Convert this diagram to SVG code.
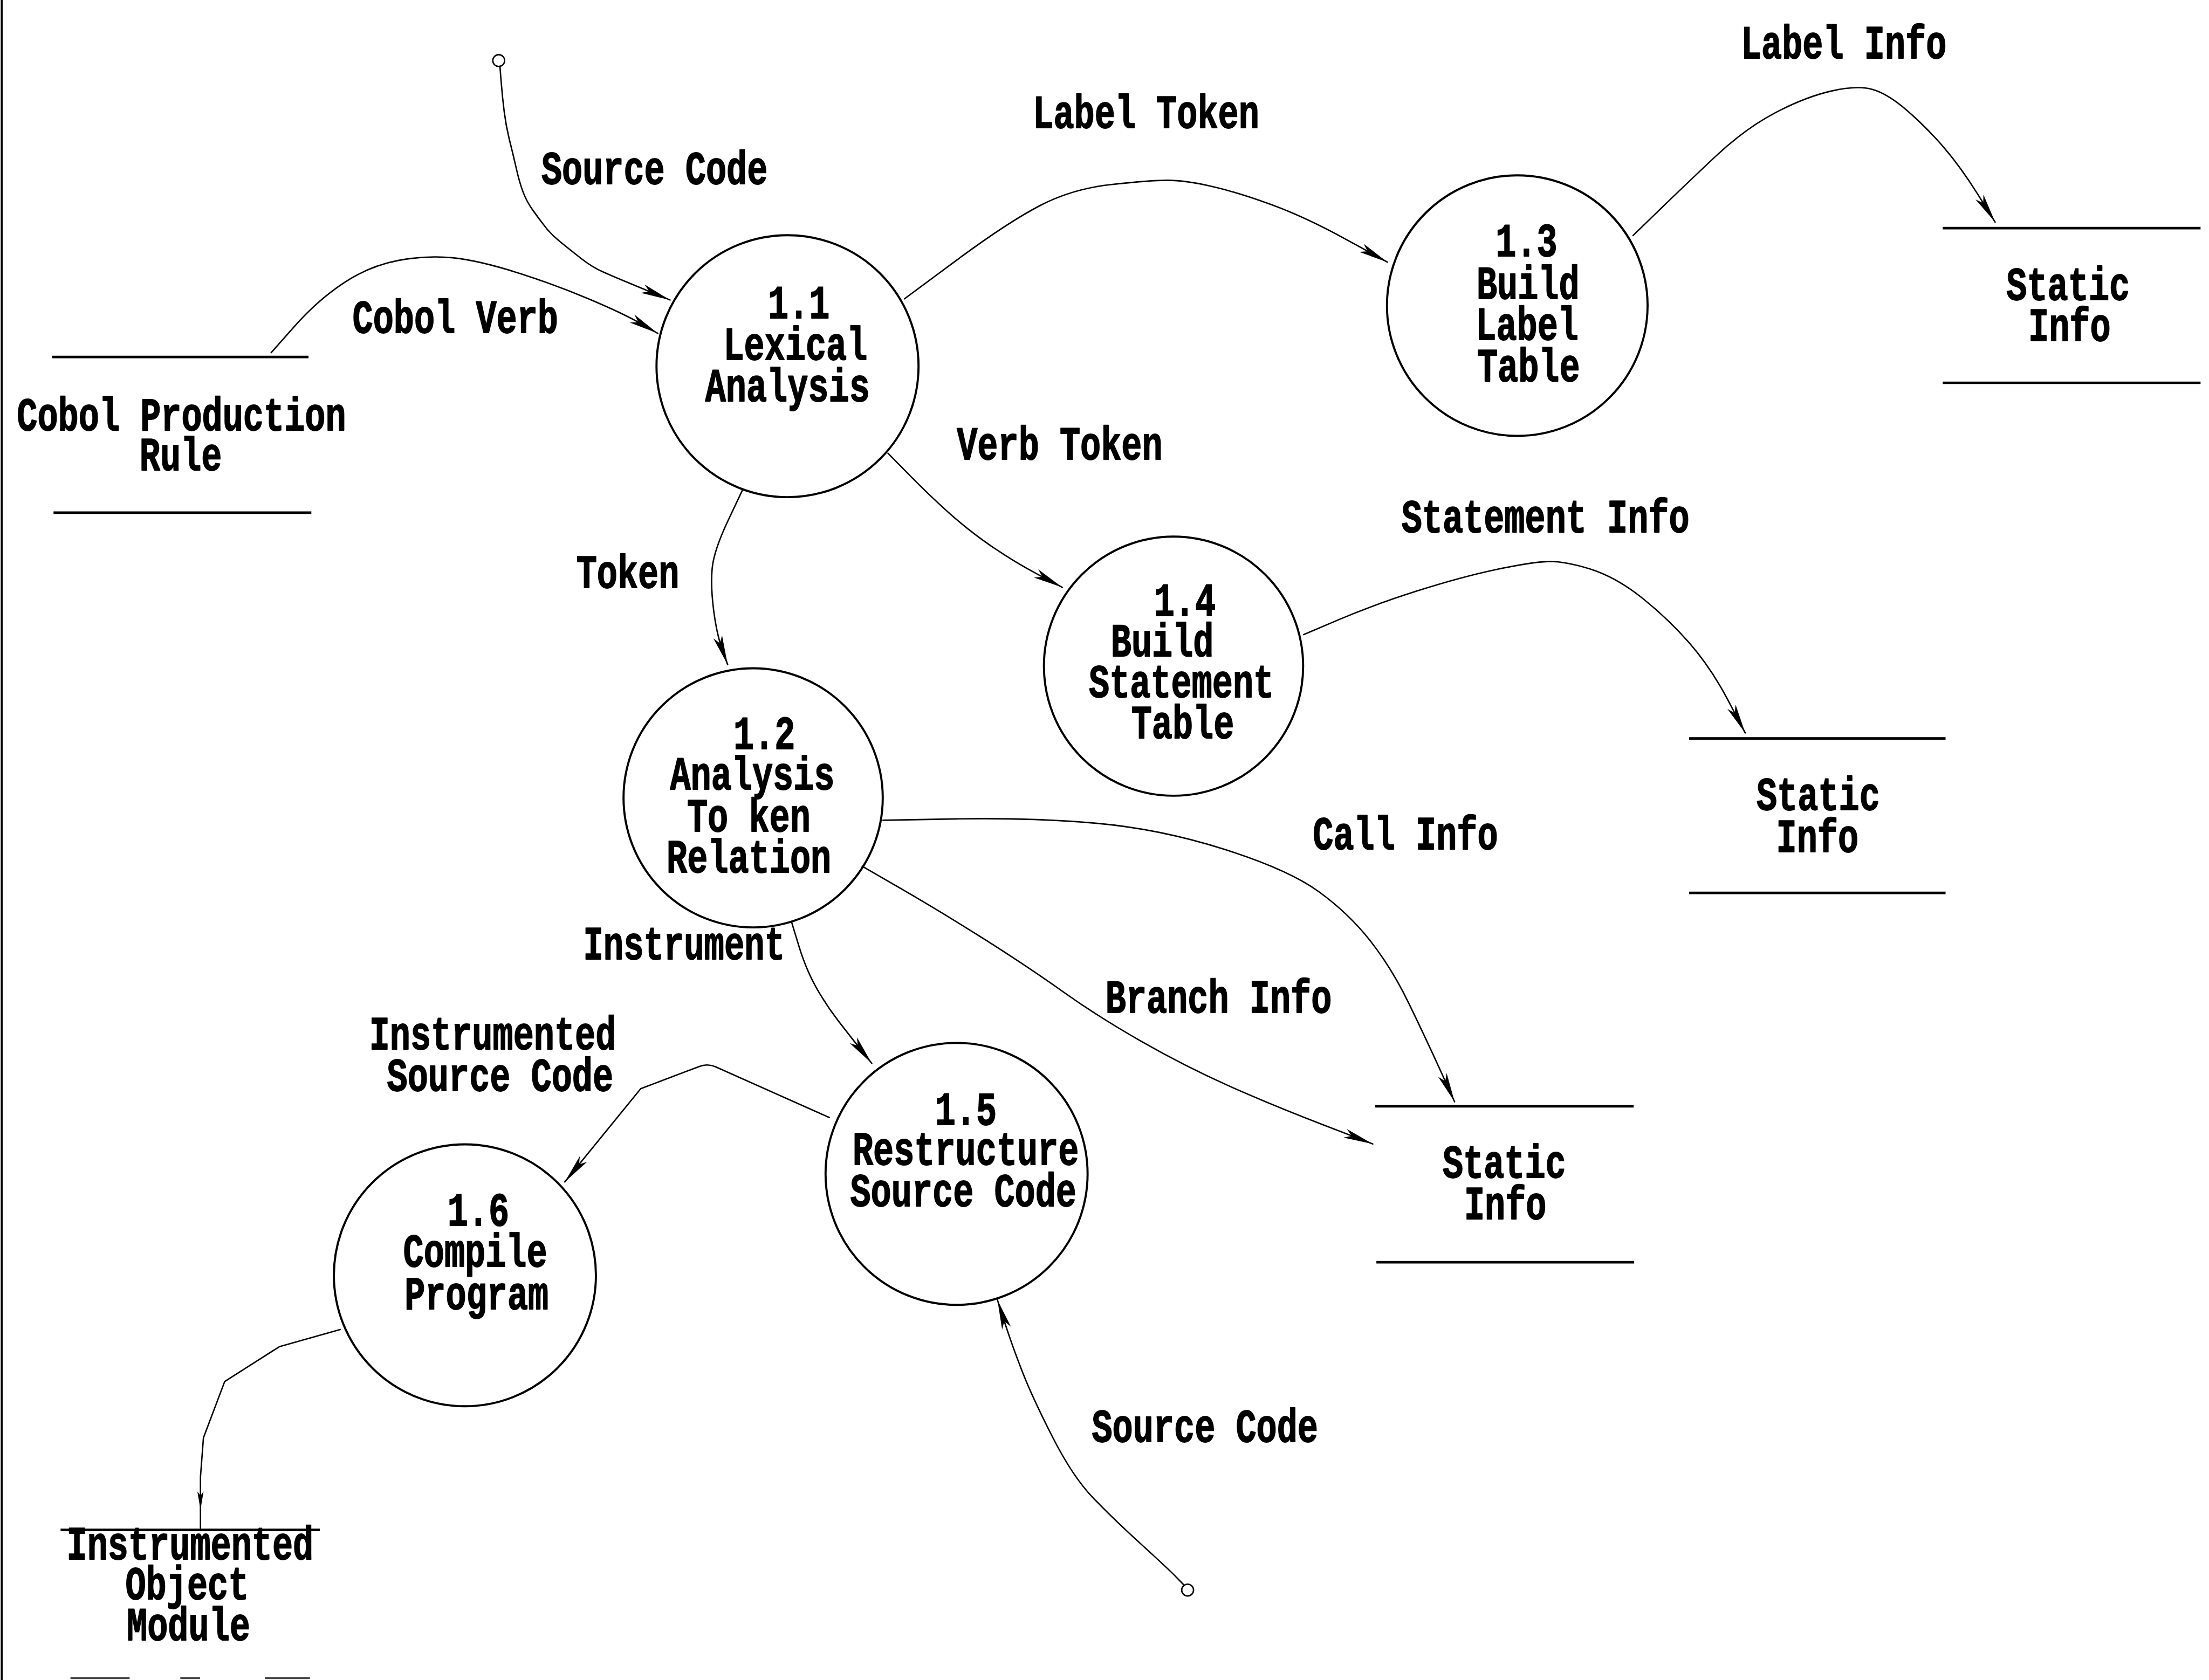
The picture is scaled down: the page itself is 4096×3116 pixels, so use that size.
<svg xmlns="http://www.w3.org/2000/svg" width="4096" height="3116" viewBox="0 0 4096 3116">
  <defs>
    <style>
      .bubble { fill: none; stroke: #000; stroke-width: 1.5; }
      .store { stroke: #000; stroke-width: 1.8; stroke-linecap: butt; }
      .flow { fill: none; stroke: #000; stroke-width: 1.0; stroke-linejoin: round; stroke-linecap: round; }
      .term { fill: #fff; stroke: #000; stroke-width: 1.0; }
      .t { font-family: "Liberation Mono", "DejaVu Sans Mono", monospace; font-weight: 700; font-size: 33px; text-anchor: middle; fill: #000; stroke: #000; stroke-width: 0.7; stroke-linejoin: round; }
    </style>
    <marker id="arr" markerUnits="userSpaceOnUse" markerWidth="40" markerHeight="40" refX="0" refY="0" orient="auto" overflow="visible">
      <path d="M0,0 L-21,-3.3 L-16,0 L-21,3.3 Z" fill="#000"/>
    </marker>
    <marker id="arrS" markerUnits="userSpaceOnUse" markerWidth="30" markerHeight="30" refX="0" refY="0" orient="auto" overflow="visible">
      <path d="M0,0 L-13,-2.2 L-10,0 L-13,2.2 Z" fill="#000"/>
    </marker>
  </defs>

  <rect x="0" y="0" width="4096" height="3116" fill="#fff"/>

  <g transform="scale(2.61224)">
    <!-- scanned page edge -->
    <line x1="1.2" y1="0" x2="1.2" y2="1193" stroke="#000" stroke-width="1.4"/>

    <!-- processes -->
    <g id="p1-1">
      <circle class="bubble" cx="559" cy="260" r="93"/>
      <text class="t" x="567" y="226" textLength="43.8" lengthAdjust="spacingAndGlyphs">1.1</text>
      <text class="t" x="564.6" y="255.5" textLength="102.2" lengthAdjust="spacingAndGlyphs">Lexical</text>
      <text class="t" x="559" y="285" textLength="116.8" lengthAdjust="spacingAndGlyphs">Analysis</text>
    </g>
    <g id="p1-2">
      <circle class="bubble" cx="534.6" cy="566.5" r="92"/>
      <text class="t" x="542.5" y="531.8" textLength="43.8" lengthAdjust="spacingAndGlyphs">1.2</text>
      <text class="t" x="534" y="560.5" textLength="116.8" lengthAdjust="spacingAndGlyphs">Analysis</text>
      <text class="t" x="531.5" y="590.3" textLength="87.6" lengthAdjust="spacingAndGlyphs">To ken</text>
      <text class="t" x="531.6" y="619.3" textLength="116.8" lengthAdjust="spacingAndGlyphs">Relation</text>
    </g>
    <g id="p1-3">
      <circle class="bubble" cx="1077" cy="217" r="92.5"/>
      <text class="t" x="1083.5" y="182" textLength="43.8" lengthAdjust="spacingAndGlyphs">1.3</text>
      <text class="t" x="1084.6" y="212" textLength="73" lengthAdjust="spacingAndGlyphs">Build</text>
      <text class="t" x="1084" y="241" textLength="73" lengthAdjust="spacingAndGlyphs">Label</text>
      <text class="t" x="1085" y="270.5" textLength="73" lengthAdjust="spacingAndGlyphs">Table</text>
    </g>
    <g id="p1-4">
      <circle class="bubble" cx="833" cy="473" r="92"/>
      <text class="t" x="841" y="437" textLength="43.8" lengthAdjust="spacingAndGlyphs">1.4</text>
      <text class="t" x="825" y="466" textLength="73" lengthAdjust="spacingAndGlyphs">Build</text>
      <text class="t" x="838.6" y="495" textLength="131.4" lengthAdjust="spacingAndGlyphs">Statement</text>
      <text class="t" x="839.5" y="524" textLength="73" lengthAdjust="spacingAndGlyphs">Table</text>
    </g>
    <g id="p1-5">
      <circle class="bubble" cx="679" cy="833.5" r="93"/>
      <text class="t" x="685.6" y="798.4" textLength="43.8" lengthAdjust="spacingAndGlyphs">1.5</text>
      <text class="t" x="685.5" y="827" textLength="160.6" lengthAdjust="spacingAndGlyphs">Restructure</text>
      <text class="t" x="683.8" y="856.5" textLength="160.6" lengthAdjust="spacingAndGlyphs">Source Code</text>
    </g>
    <g id="p1-6">
      <circle class="bubble" cx="330" cy="905.5" r="93"/>
      <text class="t" x="339.5" y="870" textLength="43.8" lengthAdjust="spacingAndGlyphs">1.6</text>
      <text class="t" x="337.3" y="899.4" textLength="102.2" lengthAdjust="spacingAndGlyphs">Compile</text>
      <text class="t" x="338.3" y="929.3" textLength="102.2" lengthAdjust="spacingAndGlyphs">Program</text>
    </g>

    <!-- data stores -->
    <g id="store-cobol-rule">
      <line class="store" x1="37" y1="253.5" x2="219" y2="253.5"/>
      <line class="store" x1="38" y1="364" x2="221" y2="364"/>
      <text class="t" x="128.8" y="305.3" textLength="233.6" lengthAdjust="spacingAndGlyphs">Cobol Production</text>
      <text class="t" x="128.3" y="333.7" textLength="58.4" lengthAdjust="spacingAndGlyphs">Rule</text>
    </g>
    <g id="store-static-a">
      <line class="store" x1="1379" y1="162" x2="1562" y2="162"/>
      <line class="store" x1="1379" y1="271.8" x2="1562" y2="271.8"/>
      <text class="t" x="1468" y="212.8" textLength="87.6" lengthAdjust="spacingAndGlyphs">Static</text>
      <text class="t" x="1469" y="242" textLength="58.4" lengthAdjust="spacingAndGlyphs">Info</text>
    </g>
    <g id="store-static-b">
      <line class="store" x1="1199" y1="524.3" x2="1381" y2="524.3"/>
      <line class="store" x1="1199" y1="634" x2="1381" y2="634"/>
      <text class="t" x="1290.6" y="575" textLength="87.6" lengthAdjust="spacingAndGlyphs">Static</text>
      <text class="t" x="1290" y="605" textLength="58.4" lengthAdjust="spacingAndGlyphs">Info</text>
    </g>
    <g id="store-static-c">
      <line class="store" x1="976" y1="785.5" x2="1159.6" y2="785.5"/>
      <line class="store" x1="977" y1="896.2" x2="1160" y2="896.2"/>
      <text class="t" x="1067.8" y="836" textLength="87.6" lengthAdjust="spacingAndGlyphs">Static</text>
      <text class="t" x="1068.5" y="865.6" textLength="58.4" lengthAdjust="spacingAndGlyphs">Info</text>
    </g>
    <g id="store-object-module">
      <line class="store" x1="43" y1="1086.3" x2="227" y2="1086.3"/>
      <text class="t" x="134.9" y="1107" textLength="175.2" lengthAdjust="spacingAndGlyphs">Instrumented</text>
      <text class="t" x="132.8" y="1135.5" textLength="87.6" lengthAdjust="spacingAndGlyphs">Object</text>
      <text class="t" x="133.8" y="1164.7" textLength="87.6" lengthAdjust="spacingAndGlyphs">Module</text>
      <g stroke="#444" stroke-width="1.4">
        <line x1="50" y1="1191.5" x2="92" y2="1191.5"/>
        <line x1="128" y1="1191.5" x2="142" y2="1191.5"/>
        <line x1="188" y1="1191.5" x2="220" y2="1191.5"/>
      </g>
    </g>

    <!-- external sources -->
    <g id="src-top">
      <circle class="term" cx="354" cy="43" r="4.2"/>
    </g>
    <g id="src-bottom">
      <circle class="term" cx="843" cy="1129" r="4.2"/>
    </g>

    <!-- data flows -->
    <g id="flows">
      <path id="f-source-code-1" class="flow" marker-end="url(#arr)" d="M354.9,47.5 L355.75,58.25 Q356.6,69 357.9,79.35 Q359.2,89.7 361.8,100.05 Q364.4,110.4 366.55,119.9 Q368.7,129.4 371.25,136.25 Q373.8,143.1 378.15,149.15 Q382.5,155.2 386.8,160.8 Q391.1,166.4 398,172 Q404.9,177.6 412.65,183.65 Q420.4,189.7 428.2,193.15 Q436,196.6 445.45,200.5 Q454.9,204.4 465.25,208.7 L475.6,213"/>
      <path id="f-cobol-verb" class="flow" marker-end="url(#arr)" d="M192.5,250.4 L208.85,231.9 Q225.2,213.4 243.65,201.1 Q262.1,188.8 282.6,184.95 Q303.1,181.1 321.5,183.05 Q339.9,185 366.55,193.4 Q393.2,201.8 417.75,212.15 Q442.3,222.5 454.6,229.6 L466.9,236.7"/>
      <path id="f-label-token" class="flow" marker-end="url(#arr)" d="M642,212.2 L678.75,184.95 Q715.5,157.7 738.45,145.85 Q761.4,134 788.95,131 Q816.5,128 828.75,128 Q841,128 859.35,132.15 Q877.7,136.3 902.15,145.2 Q926.6,154.1 955.7,170.1 L984.8,186.1"/>
      <path id="f-label-info" class="flow" marker-end="url(#arr)" d="M1159.2,167.2 L1177.55,149.4 Q1195.9,131.6 1217.3,111.45 Q1238.7,91.3 1260.15,80.05 Q1281.6,68.8 1299.9,64.65 Q1318.2,60.5 1328.95,63.45 Q1339.7,66.4 1353.45,78.25 Q1367.2,90.1 1379.5,104.35 Q1391.8,118.6 1404,138.15 L1416.2,157.7"/>
      <path id="f-verb-token" class="flow" marker-end="url(#arr)" d="M630.3,321.8 L645.15,336.9 Q660,352 674,364.5 Q688,377 704,388 Q720,399 737,408 L754,417"/>
      <path id="f-token" class="flow" marker-end="url(#arr)" d="M526.9,348.2 L516.75,369.7 Q506.6,391.2 505.5,403.8 Q504.4,416.4 506.55,433.2 Q508.7,450 512.6,461 L516.5,471.9"/>
      <path id="f-statement-info" class="flow" marker-end="url(#arr)" d="M925.4,450.6 L950.5,439.9 Q975.6,429.2 1006.2,419.5 Q1036.8,409.8 1061.3,404.55 Q1085.8,399.3 1098,398.75 Q1110.2,398.2 1128.6,404 Q1147,409.8 1165.35,424.35 Q1183.7,438.9 1199,456.35 Q1214.3,473.8 1226.55,497.1 L1238.8,520.4"/>
      <path id="f-call-info" class="flow" marker-end="url(#arr)" d="M626.8,582.4 L678.8,581.45 Q730.8,580.5 776.7,584.4 Q822.6,588.3 868.5,602.85 Q914.4,617.4 935.8,632.9 Q957.2,648.4 972.5,667.8 Q987.8,687.2 1000.05,712.45 Q1012.3,737.7 1022.4,760 L1032.5,782.3"/>
      <path id="f-branch-info" class="flow" marker-end="url(#arr)" d="M612,615 L640.8,631.7 Q669.6,648.4 700.2,667.8 Q730.8,687.2 755.3,704.65 Q779.8,722.1 810.4,739.55 Q841,757 871.5,770.65 Q902,784.3 938.2,798.25 L974.4,812.2"/>
      <path id="f-instrument" class="flow" marker-end="url(#arr)" d="M562,655 L567,671.5 Q572,688 579.15,700.75 Q586.3,713.5 594.95,724.7 Q603.6,735.9 611.2,745.45 L618.8,755"/>
      <path id="f-instrumented-source" class="flow" marker-end="url(#arr)" d="M588.7,793.5 L508,757.5 Q502.3,755 496.5,757.2 L454.8,773 L400.9,839.2"/>
      <path id="f-object-module" class="flow" marker-end="url(#arrS)" d="M241.4,944 L198.3,956.2 L159.5,980.9 L144.4,1020.9 L142.3,1048.6 L142.3,1072"/>
      <line class="flow" x1="142.3" y1="1072" x2="142.3" y2="1085"/>
      <path id="f-source-code-2" class="flow" marker-end="url(#arr)" d="M840,1125 L834.8,1119.65 Q829.6,1114.3 809.7,1096.15 Q789.8,1078 775.6,1063.2 Q761.4,1048.4 747.15,1020.4 Q732.9,992.4 725.8,974.25 Q718.7,956.1 713.35,939.55 L708,923"/>

      <!-- flow labels -->
      <text class="t" x="464.6" y="130.5" textLength="160.6" lengthAdjust="spacingAndGlyphs">Source Code</text>
      <text class="t" x="323.2" y="236.3" textLength="146" lengthAdjust="spacingAndGlyphs">Cobol Verb</text>
      <text class="t" x="813.5" y="90.6" textLength="160.6" lengthAdjust="spacingAndGlyphs">Label Token</text>
      <text class="t" x="1308.7" y="41.5" textLength="146" lengthAdjust="spacingAndGlyphs">Label Info</text>
      <text class="t" x="752.2" y="326" textLength="146" lengthAdjust="spacingAndGlyphs">Verb Token</text>
      <text class="t" x="445.6" y="417.3" textLength="73" lengthAdjust="spacingAndGlyphs">Token</text>
      <text class="t" x="1097" y="378" textLength="204.4" lengthAdjust="spacingAndGlyphs">Statement Info</text>
      <text class="t" x="997.6" y="603" textLength="131.4" lengthAdjust="spacingAndGlyphs">Call Info</text>
      <text class="t" x="865" y="719" textLength="160.6" lengthAdjust="spacingAndGlyphs">Branch Info</text>
      <text class="t" x="485.5" y="681" textLength="143" lengthAdjust="spacingAndGlyphs">Instrument</text>
      <text class="t" x="349.7" y="745" textLength="175.2" lengthAdjust="spacingAndGlyphs">Instrumented</text>
      <text class="t" x="355" y="774.4" textLength="160.6" lengthAdjust="spacingAndGlyphs">Source Code</text>
      <text class="t" x="855.3" y="1023.7" textLength="160.6" lengthAdjust="spacingAndGlyphs">Source Code</text>
    </g>
  </g>
</svg>
